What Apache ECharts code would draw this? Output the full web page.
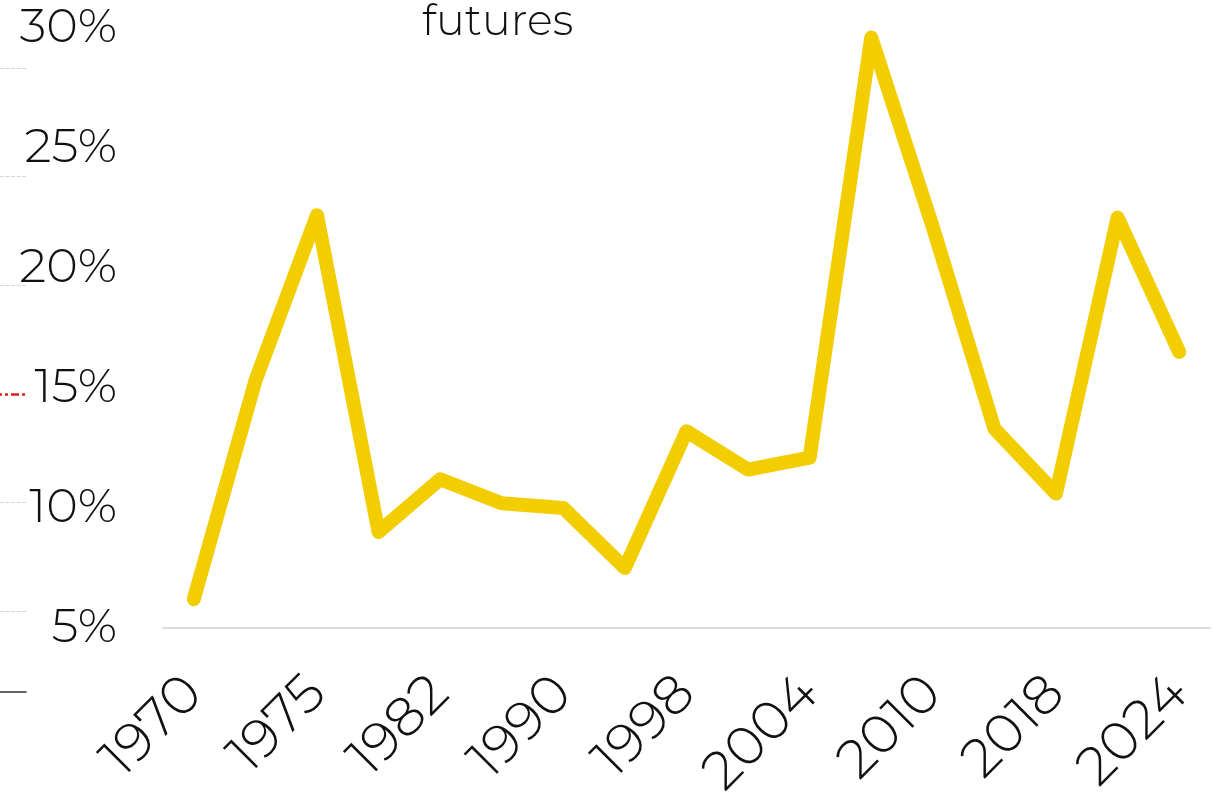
<!DOCTYPE html>
<html>
<head>
<meta charset="utf-8">
<title>futures</title>
<script src="https://cdn.jsdelivr.net/npm/echarts@6/dist/echarts.min.js"></script>
<style>
  html, body { margin: 0; padding: 0; background: #fff; }
  #chart { width: 1220px; height: 793px; }
</style>
</head>
<body>
<div id="chart"></div>
<script>
// data
var years = ['1970', '1973', '1975', '1979', '1982', '1986', '1990', '1994', '1998',
             '2001', '2004', '2007', '2010', '2014', '2018', '2021', '2024'];
var futures = [6.2, 15.3, 22.2, 9.0, 11.2, 10.2, 10.0, 7.5, 13.2,
               11.6, 12.1, 29.6, 21.7, 13.3, 10.6, 22.1, 16.5];
var yTicks = [5, 10, 15, 20, 25, 30];
var refLevel = 15;

var font = 'Montserrat, Lato, "Open Sans", sans-serif';

var myChart = echarts.init(document.getElementById('chart'));

var option = {
    animation: false,
    title: {
        text: 'futures',
        left: 417,
        top: -4,
        textStyle: { fontFamily: font, fontWeight: 300, fontSize: 43, color: '#111' }
    },
    grid: [
        { left: 163, right: 10, top: 28, bottom: 165, outerBoundsMode: 'none' },
        // little dashed guides at the far left
        { left: 0, width: 26, top: 68, height: 543, outerBoundsMode: 'none' }
    ],
    xAxis: [{
        type: 'category',
        data: years,
        boundaryGap: true,
        axisLine: { lineStyle: { color: '#dcdcdc', width: 2 } },
        axisTick: { show: false },
        axisLabel: {
            interval: 1,
            rotate: 45,
            margin: 57,
            fontFamily: font,
            fontWeight: 300,
            fontSize: 54,
            color: '#111'
        }
    }, {
        type: 'value',
        gridIndex: 1,
        min: 0,
        max: 1,
        offset: 81,
        axisLine: { show: true, lineStyle: { color: '#333', width: 1.5 } },
        axisTick: { show: false },
        axisLabel: { show: false },
        splitLine: { show: false }
    }],
    yAxis: [{
        type: 'value',
        min: yTicks[0],
        max: yTicks[yTicks.length - 1],
        interval: 5,
        axisLine: { show: false },
        axisTick: { show: false },
        splitLine: { show: false },
        axisLabel: {
            formatter: '{value}%',
            margin: 46,
            fontFamily: font,
            fontWeight: 300,
            fontSize: 48,
            color: '#111'
        }
    }, {
        type: 'value',
        gridIndex: 1,
        min: yTicks[0],
        max: yTicks[yTicks.length - 1],
        interval: 5,
        axisLine: { show: false },
        axisTick: { show: false },
        axisLabel: { show: false },
        splitLine: {
            show: true,
            lineStyle: {
                type: [4, 1.5],
                width: 1.2,
                color: ['#d6d6d6', '#d6d6d6', 'rgba(0,0,0,0)', '#d6d6d6', '#d6d6d6', '#d6d6d6']
            }
        }
    }],
    series: [{
        name: 'futures',
        type: 'line',
        data: futures,
        showSymbol: false,
        symbol: 'none',
        lineStyle: { color: '#f2cd00', width: 14, cap: 'round', join: 'round' }
    }, {
        name: 'ref',
        type: 'line',
        xAxisIndex: 1,
        yAxisIndex: 1,
        data: [],
        markLine: {
            silent: true,
            symbol: 'none',
            label: { show: false },
            emphasis: { disabled: true },
            lineStyle: { color: '#e01e1e', width: 2.5, opacity: 1, type: [8, 3, 3, 3], dashOffset: 6 },
            data: [{ yAxis: refLevel }]
        }
    }]
};

myChart.setOption(option);
</script>
</body>
</html>
